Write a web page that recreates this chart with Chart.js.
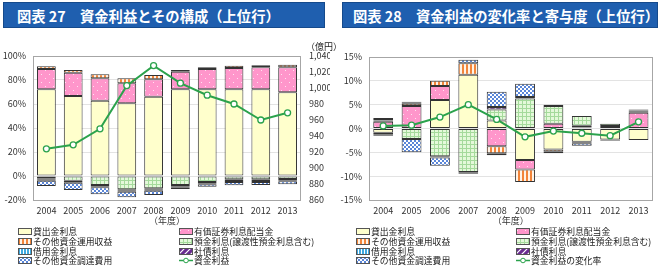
<!DOCTYPE html>
<html>
<head>
<meta charset="utf-8">
<script src="https://cdn.jsdelivr.net/npm/chart.js@4.4.0/dist/chart.umd.min.js"></script>
<style>
  body { margin: 0; width: 658px; height: 277px; position: relative; background: #fff; overflow: hidden;
         font-family: 'Noto Sans CJK JP', sans-serif; color: #222; }
  .title { position: absolute; top: 2px; height: 26px; line-height: 25px; box-sizing: border-box;
           background: #1F5FAF; border: 1px solid #154A8C; color: #fff; font-size: 14.3px; font-weight: bold;
           white-space: nowrap; overflow: hidden; }
  canvas.chart { position: absolute; top: 40px; }
  #unit { position: absolute; left: 306px; top: 40px; font-size: 9px; white-space: nowrap; }
  .legend { position: absolute; top: 227px; display: grid; font-size: 8.8px; }
  .legend div { display: flex; align-items: center; white-space: nowrap; height: 9.7px; }
  .legend canvas { margin-right: 1px; }
</style>
</head>
<body>
<div class="title" style="left:3px;width:322px;padding-left:13px">図表 27　資金利益とその構成（上位行）</div>
<div class="title" style="left:342px;width:316px;padding-left:10px">図表 28　資金利益の変化率と寄与度（上位行）</div>
<canvas id="c1" class="chart" width="330" height="190" style="left:0"></canvas>
<canvas id="c2" class="chart" width="328" height="190" style="left:330px"></canvas>
<div id="unit">（億円）</div>
<div id="lg1" class="legend" style="left:18px;grid-template-columns:161px auto"></div>
<div id="lg2" class="legend" style="left:356px;grid-template-columns:160px auto"></div>
<script>
const years = ['2004', '2005', '2006', '2007', '2008', '2009', '2010', '2011', '2012', '2013'];
const seriesNames = ['貸出金利息', '有価証券利息配当金', 'その他資金運用収益', '預金利息(譲渡性預金利息含む)',
  '借用金利息', '社債利息', 'その他資金調達費用'];

// 図表27 構成比 (%)
const shareLoan     = [72.2, 66.7, 62.8, 60.6, 66.1, 72.2, 72.2, 72.2, 72.2, 69.7];
const shareSec      = [17.0, 19.4, 18.6, 16.6, 14.5, 14.7, 17.0, 17.8, 18.4, 20.9];
const shareOtherInc = [2.2, 2.2, 3.3, 4.2, 3.6, 1.4, 1.4, 1.9, 1.6, 2.2];
const shareDeposit  = [-1.9, -3.9, -7.5, -11.1, -10.3, -7.5, -5.0, -2.8, -2.8, -2.5];
const shareBorrow   = [-1.2, -1.0, -1.1, -1.2, -1.1, -1.1, -1.1, -1.3, -1.3, -1.1];
const shareBond     = [-0.8, -0.7, -0.8, -0.8, -0.8, -0.8, -0.8, -0.9, -0.9, -0.8];
const shareOtherExp = [-4.4, -6.1, -5.9, -4.7, -3.6, -1.4, -2.0, -2.8, -2.5, -2.5];
const netIncome     = [924, 929, 949, 1003, 1028, 1006, 991, 980, 960, 969]; // 億円

// 図表28 寄与度 (%)
const contLoan     = [-0.9, -0.1, 6.0, 11.3, 1.7, -6.6, -4.4, -2.8, -2.3, -2.4];
const contSec      = [1.4, 4.7, 2.9, 0, -3.7, -2.0, 1.0, 0.2, 0, 3.3];
const contOtherInc = [0.3, 0.5, 1.1, 2.4, -1.5, -2.6, -0.5, 0.4, 0.5, 0];
const contDeposit  = [-0.3, -2.1, -5.8, -9.1, 2.3, 6.3, 3.7, 2.0, 0.5, 0.2];
const contBorrow   = [0.3, 0.2, -0.2, -0.2, -0.4, 0.3, -0.3, -0.2, -0.2, 0.3];
const contBond     = [0.2, 0.2, -0.1, -0.2, 0.5, 0, 0.3, -0.1, -0.1, 0.2];
const contOtherExp = [-0.3, -2.8, -1.7, 0.7, 3.2, 2.8, 0, -0.5, 0, 0];
const changeRate   = [0.55, 0.7, 2.4, 5.0, 1.9, -1.75, -0.55, -1.0, -1.5, 1.4];

const lineColor = '#2BA24C';

// パターン塗り
function pat(w, h, draw) {
  const c = document.createElement('canvas');
  c.width = w; c.height = h;
  const g = c.getContext('2d');
  draw(g);
  return g.createPattern(c, 'repeat');
}
const fills = [
  '#FFFFCC',
  pat(8, 8, g => { g.fillStyle = '#FF96CB'; g.fillRect(0, 0, 8, 8); g.fillStyle = '#FFE3F1'; g.fillRect(1, 2, 1, 1); g.fillRect(5, 6, 1, 1); }),
  pat(4, 1, g => { g.fillStyle = '#FFF3E6'; g.fillRect(0, 0, 4, 1); g.fillStyle = '#F2853A'; g.fillRect(0, 0, 2, 1); }),
  pat(4, 4, g => { g.fillStyle = '#E4F9DA'; g.fillRect(0, 0, 4, 4); g.fillStyle = '#A5DA9C'; g.fillRect(0, 0, 4, 1); g.fillRect(0, 0, 1, 4); }),
  pat(3, 1, g => { g.fillStyle = '#3FA9E0'; g.fillRect(0, 0, 3, 1); g.fillStyle = '#fff'; g.fillRect(2, 0, 1, 1); }),
  pat(6, 6, g => { g.fillStyle = '#6A2C91'; g.fillRect(0, 0, 6, 6); g.strokeStyle = '#fff'; g.lineWidth = 1.2;
    g.beginPath(); g.moveTo(0, 6); g.lineTo(6, 0); g.moveTo(-1, 1); g.lineTo(1, -1); g.moveTo(5, 7); g.lineTo(7, 5); g.stroke(); }),
  pat(4, 4, g => { g.fillStyle = '#fff'; g.fillRect(0, 0, 4, 4); g.fillStyle = '#5A86D8'; g.fillRect(0, 0, 2, 2); g.fillRect(2, 2, 2, 2); })
];

Chart.defaults.font.family = "'Noto Sans CJK JP', sans-serif";
Chart.defaults.font.size = 9;
Chart.defaults.color = '#333';

function barSets(arrays) {
  return arrays.map((d, i) => ({
    type: 'bar', label: seriesNames[i], data: d, order: 1,
    backgroundColor: fills[i], borderColor: '#333', borderWidth: 1, borderSkipped: false,
    barPercentage: 0.7, categoryPercentage: 1
  }));
}
function lineSet(label, data, axis) {
  return { type: 'line', label, data, yAxisID: axis, order: 0, borderColor: lineColor, borderWidth: 2,
    pointRadius: 3, pointBackgroundColor: '#fff', pointBorderColor: lineColor, pointBorderWidth: 1.3, tension: 0 };
}

// 枠線
const frame = {
  id: 'frame',
  beforeDatasetsDraw(chart) {
    const a = chart.chartArea, g = chart.ctx;
    g.save(); g.strokeStyle = '#A6A6A6'; g.lineWidth = 1;
    g.strokeRect(Math.round(a.left) + 0.5, Math.round(a.top) + 0.5, Math.round(a.right - a.left) - 1, Math.round(a.bottom - a.top));
    g.restore();
  }
};
const fit = (prop, v) => scale => { scale[prop] = v; };

function xAxis() {
  return {
    stacked: true, grid: { display: false, drawTicks: false }, border: { display: false },
    ticks: { padding: 5, font: { size: 9 } },
    title: { display: true, text: '（年度）', font: { size: 9 }, padding: { top: 0, bottom: 4 } },
    afterFit: fit('height', 30)
  };
}

new Chart(document.getElementById('c1'), {
  data: {
    labels: years,
    datasets: [...barSets([shareLoan, shareSec, shareOtherInc, shareDeposit, shareBorrow, shareBond, shareOtherExp]),
      lineSet('資金利益', netIncome, 'y1')]
  },
  options: {
    responsive: false, animation: false,
    layout: { padding: { top: 16, right: 0, left: 0, bottom: 0 } },
    plugins: { legend: { display: false }, tooltip: { enabled: false } },
    scales: {
      x: xAxis(),
      y: {
        stacked: true, min: -20, max: 100,
        grid: { color: '#E3E3E3', drawTicks: false }, border: { display: false },
        ticks: { stepSize: 20, padding: 7, callback: v => v + '%' },
        afterFit: fit('width', 33)
      },
      y1: {
        position: 'right', min: 860, max: 1040,
        grid: { display: false, drawTicks: false }, border: { display: false },
        ticks: { stepSize: 20, padding: 8, callback: v => v.toLocaleString('en-US') },
        afterFit: fit('width', 29)
      }
    }
  },
  plugins: [frame]
});

new Chart(document.getElementById('c2'), {
  data: {
    labels: years,
    datasets: [...barSets([contLoan, contSec, contOtherInc, contDeposit, contBorrow, contBond, contOtherExp]),
      lineSet('資金利益の変化率', changeRate, 'y1')]
  },
  options: {
    responsive: false, animation: false,
    layout: { padding: { top: 17, right: 1, left: 0, bottom: 0 } },
    plugins: { legend: { display: false }, tooltip: { enabled: false } },
    scales: {
      x: xAxis(),
      y: {
        stacked: true, min: -15, max: 15,
        grid: { color: '#E3E3E3', drawTicks: false }, border: { display: false },
        ticks: { stepSize: 5, padding: 7, callback: v => v + '%' },
        afterFit: fit('width', 39)
      },
      y1: { display: false, min: -15, max: 15 }
    }
  },
  plugins: [frame]
});

// 凡例
function swatch(i) {
  const c = document.createElement('canvas');
  c.width = 14; c.height = 7;
  const g = c.getContext('2d');
  if (i < fills.length) {
    g.fillStyle = fills[i]; g.fillRect(1, 1, 12, 5);
    g.strokeStyle = '#555'; g.lineWidth = 1; g.strokeRect(0.5, 0.5, 13, 6);
  } else {
    g.strokeStyle = lineColor; g.lineWidth = 1.5;
    g.beginPath(); g.moveTo(0, 3.5); g.lineTo(14, 3.5); g.stroke();
    g.fillStyle = '#fff'; g.beginPath(); g.arc(7, 3.5, 2.3, 0, Math.PI * 2); g.fill(); g.lineWidth = 1; g.stroke();
  }
  return c;
}
function legend(id, lineLabel) {
  const box = document.getElementById(id);
  [...seriesNames, lineLabel].forEach((name, i) => {
    const row = document.createElement('div');
    row.appendChild(swatch(i));
    row.appendChild(document.createTextNode(name));
    box.appendChild(row);
  });
}
legend('lg1', '資金利益');
legend('lg2', '資金利益の変化率');
</script>
</body>
</html>
